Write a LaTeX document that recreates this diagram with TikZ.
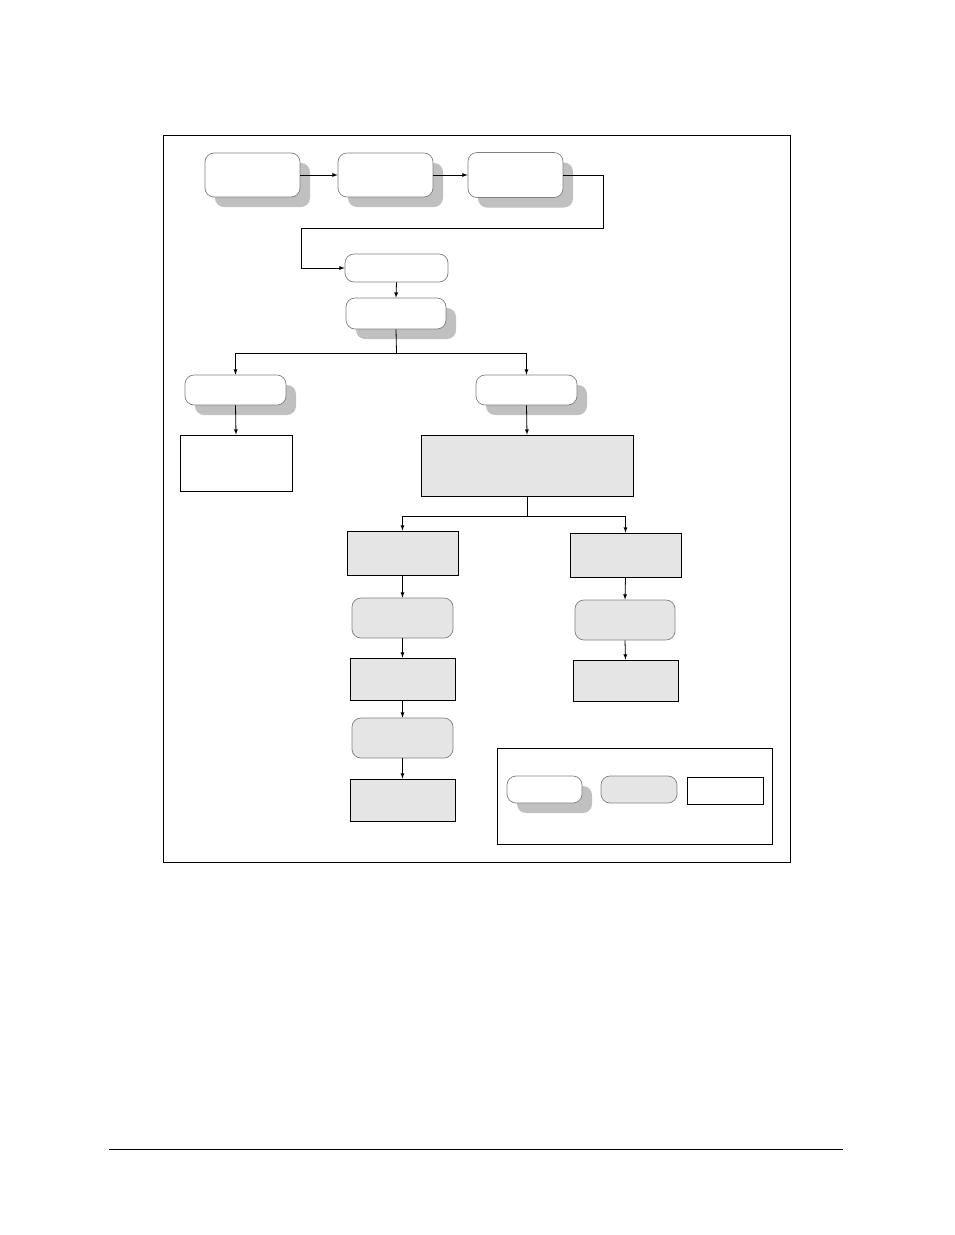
\documentclass[tikz,border=0pt]{standalone}
\usepackage{xcolor}
\usepackage{tikz}
\usetikzlibrary{shapes.geometric, arrows, shadows, calc}
\definecolor{boxgray}{RGB}{229, 229, 229}
\definecolor{shadowgray}{RGB}{192, 192, 192}
\definecolor{edgegray}{RGB}{128, 128, 128}

\begin{document}
\begin{tikzpicture}[x=1pt, y=-1pt,
    stage/.style={rounded corners=9pt, draw=edgegray, line width=0.7pt, fill=white, inner sep=0pt},
    shadowed/.style={drop shadow={shadow xshift=10pt, shadow yshift=-10pt, fill=shadowgray, opacity=1}},
    graystage/.style={stage, fill=boxgray},
    task/.style={rectangle, draw=black, line width=0.8pt, fill=boxgray, inner sep=0pt},
    plaintask/.style={task, fill=white},
    arr/.style={-latex, line width=0.8pt}]
    \useasboundingbox (0,0) rectangle (954,1235);

    % Outer frame and page rule
    \draw[line width=0.9pt] (163,135) rectangle (790,862);
    \draw[line width=0.9pt] (109,1149) -- (843,1149);

    % Top row
    \node[stage, shadowed, minimum width=95, minimum height=44] (start) at (252.5,175) {};
    \node[stage, shadowed, minimum width=95, minimum height=44] (second) at (385.5,175) {};
    \node[stage, shadowed, minimum width=95, minimum height=45] (third) at (515.5,175) {};

    % Middle column
    \node[stage, minimum width=103, minimum height=28] (gate) at (396.5,268) {};
    \node[stage, shadowed, minimum width=100, minimum height=31] (decide) at (396,313.5) {};

    % Branches
    \node[stage, shadowed, minimum width=101, minimum height=30] (leftopt) at (235.5,390) {};
    \node[stage, shadowed, minimum width=101, minimum height=30] (rightopt) at (526.5,390) {};
    \node[plaintask, minimum width=112, minimum height=56] (leftend) at (236,463) {};
    \node[task, minimum width=212, minimum height=61] (process) at (527,465.5) {};

    % Left chain
    \node[task, minimum width=111, minimum height=44] (taskA) at (402.5,553) {};
    \node[graystage, minimum width=101, minimum height=40] (stepA) at (402.5,618) {};
    \node[task, minimum width=105, minimum height=42] (taskB) at (402.5,679) {};
    \node[graystage, minimum width=101, minimum height=40] (stepB) at (402.5,738) {};
    \node[task, minimum width=105, minimum height=42] (taskC) at (402.5,800) {};

    % Right chain
    \node[task, minimum width=111, minimum height=44] (taskD) at (625.5,555) {};
    \node[graystage, minimum width=100, minimum height=40] (stepD) at (625,620) {};
    \node[task, minimum width=105, minimum height=41] (taskE) at (625.5,680.5) {};

    % Connectors
    \draw[arr] (start.east) -- (second.west);
    \draw[arr] (second.east) -- (third.west);
    \draw[arr] (third.east) -- ++(40,0) |- (301,228) |- (gate.west);
    \draw[arr] (gate.south) -- (decide.north);

    \coordinate (split1) at (396.5,353);
    \draw[line width=0.8pt] (decide.south) -- (split1);
    \draw[arr] (split1) -| (leftopt.north);
    \draw[arr] (split1) -| (rightopt.north);
    \draw[arr] (leftopt.south) -- (leftend.north);
    \draw[arr] (rightopt.south) -- (process.north);

    \coordinate (split2) at (527,516);
    \draw[line width=0.8pt] (process.south) -- (split2);
    \draw[arr] (split2) -| (taskA.north);
    \draw[arr] (split2) -| (taskD.north);

    \draw[arr] (taskA.south) -- (stepA.north);
    \draw[arr] (stepA.south) -- (taskB.north);
    \draw[arr] (taskB.south) -- (stepB.north);
    \draw[arr] (stepB.south) -- (taskC.north);
    \draw[arr] (taskD.south) -- (stepD.north);
    \draw[arr] (stepD.south) -- (taskE.north);

    % Legend
    \node[rectangle, draw=black, line width=0.9pt, minimum width=275, minimum height=96, inner sep=0pt] (legend) at (634.5,796) {};
    \node[stage, shadowed, minimum width=75, minimum height=27] (legA) at (544.5,789.5) {};
    \node[graystage, minimum width=76, minimum height=27] (legB) at (639,789.5) {};
    \node[plaintask, minimum width=76, minimum height=27] (legC) at (725,790.5) {};

\end{tikzpicture}
\end{document}
